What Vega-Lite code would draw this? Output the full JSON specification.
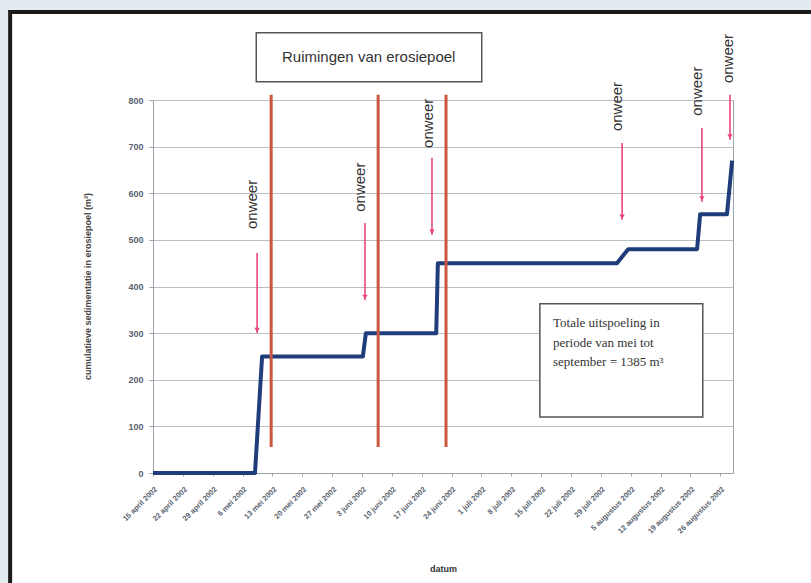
{
  "$schema": "https://vega.github.io/schema/vega-lite/v6.json",
  "autosize": {"type": "none"},
  "width": 580,
  "height": 373,
  "padding": {"left": 153, "top": 100, "right": 78, "bottom": 110},
  "background": "#ffffff",
  "config": {
    "view": {"stroke": "#9aa3ab", "strokeWidth": 1},
    "font": "Liberation Sans"
  },
  "datasets": {
    "rand": [
      {"x1": "2002-01-01T00:00:00Z", "x2": "2002-03-12T12:00:00Z", "y1": 1200, "y2": -400},
      {"x1": "2002-01-01T00:00:00Z", "x2": "2002-11-01T00:00:00Z", "y1": 1200, "y2": 989}
    ],
    "frame": [{"x1": "2002-03-12T12:00:00Z", "x2": "2002-09-25T00:00:00Z", "y1": 989, "y2": -300}],
    "lijn": [
      {"datum": "2002-04-15T00:00:00Z", "waarde": 0},
      {"datum": "2002-05-08T22:00:00Z", "waarde": 0},
      {"datum": "2002-05-10T14:00:00Z", "waarde": 250},
      {"datum": "2002-06-03T05:00:00Z", "waarde": 250},
      {"datum": "2002-06-03T22:00:00Z", "waarde": 300},
      {"datum": "2002-06-20T10:00:00Z", "waarde": 300},
      {"datum": "2002-06-20T19:00:00Z", "waarde": 450},
      {"datum": "2002-08-01T19:00:00Z", "waarde": 450},
      {"datum": "2002-08-04T10:00:00Z", "waarde": 480},
      {"datum": "2002-08-20T14:00:00Z", "waarde": 480},
      {"datum": "2002-08-21T07:00:00Z", "waarde": 555},
      {"datum": "2002-08-27T14:00:00Z", "waarde": 555},
      {"datum": "2002-08-28T19:00:00Z", "waarde": 670}
    ],
    "ruimingen": [
      {"datum": "2002-05-12T17:00:00Z", "van": 56, "tot": 811},
      {"datum": "2002-06-06T19:00:00Z", "van": 56, "tot": 811},
      {"datum": "2002-06-22T17:00:00Z", "van": 56, "tot": 811}
    ],
    "pijlen": [
      {"datum": "2002-05-09T10:00:00Z", "boven": 472, "onder": 300},
      {"datum": "2002-06-03T17:00:00Z", "boven": 536, "onder": 371},
      {"datum": "2002-06-19T10:00:00Z", "boven": 676, "onder": 511},
      {"datum": "2002-08-03T00:00:00Z", "boven": 708, "onder": 543},
      {"datum": "2002-08-21T17:00:00Z", "boven": 740, "onder": 582},
      {"datum": "2002-08-28T07:00:00Z", "boven": 811, "onder": 715}
    ],
    "onweer": [
      {"datum": "2002-05-08T05:00:00Z", "y": 576, "tekst": "onweer"},
      {"datum": "2002-06-02T12:00:00Z", "y": 613, "tekst": "onweer"},
      {"datum": "2002-06-18T12:00:00Z", "y": 750, "tekst": "onweer"},
      {"datum": "2002-08-01T19:00:00Z", "y": 786, "tekst": "onweer"},
      {"datum": "2002-08-20T14:00:00Z", "y": 819, "tekst": "onweer"},
      {"datum": "2002-08-27T22:00:00Z", "y": 889, "tekst": "onweer"}
    ],
    "titelbox": [{"x1": "2002-05-09T05:00:00Z", "x2": "2002-07-01T02:00:00Z", "y1": 944, "y2": 839, "xm": "2002-06-04T14:00:00Z", "ym": 892, "tekst": "Ruimingen van erosiepoel"}],
    "notabox": [{"x1": "2002-07-14T17:00:00Z", "x2": "2002-08-21T22:00:00Z", "y1": 363, "y2": 120}],
    "notatekst": [
      {"datum": "2002-07-17T19:00:00Z", "y": 322, "tekst": "Totale uitspoeling in"},
      {"datum": "2002-07-17T19:00:00Z", "y": 279, "tekst": "periode van mei tot"},
      {"datum": "2002-07-17T19:00:00Z", "y": 238, "tekst": "september = 1385 m³"}
    ]
  },
  "layer": [
    {
      "data": {"name": "rand"},
      "mark": {"type": "rect", "fill": "#e3ebf1", "strokeWidth": 0},
      "encoding": {
        "x": {"field": "x1", "type": "temporal"},
        "x2": {"field": "x2"},
        "y": {"field": "y1", "type": "quantitative"},
        "y2": {"field": "y2"}
      }
    },
    {
      "data": {"name": "frame"},
      "mark": {"type": "rect", "fill": null, "fillOpacity": 0, "stroke": "#1a1a1a", "strokeWidth": 4},
      "encoding": {
        "x": {"field": "x1", "type": "temporal"},
        "x2": {"field": "x2"},
        "y": {"field": "y1", "type": "quantitative"},
        "y2": {"field": "y2"}
      }
    },
    {
      "data": {"name": "lijn"},
      "mark": {"type": "line", "color": "#1f3d7a", "strokeWidth": 4, "strokeJoin": "round"},
      "encoding": {
        "x": {
          "field": "datum", "type": "temporal",
          "scale": {"type": "utc", "nice": false, "domain": [{"year": 2002, "month": 4, "date": 15, "utc": true}, {"year": 2002, "month": 8, "date": 29, "utc": true}]},
          "axis": {
            "title": "datum",
            "titleFontSize": 9, "titleFontWeight": "bold", "titleColor": "#333",
            "titleX": 290, "titleY": 95, "titleAlign": "center", "titleBaseline": "middle",
            "grid": false,
            "domainColor": "#9aa3ab",
            "tickColor": "#9aa3ab", "tickSize": 3,
            "tickCount": 40,
            "labelAngle": -45, "labelFontSize": 7.5, "labelColor": "#5a6470", "labelFontWeight": "bold",
            "labelPadding": 9, "labelOverlap": false, "labelFlush": false,
            "values": [
              {"year": 2002, "month": 4, "date": 15, "utc": true},
              {"year": 2002, "month": 4, "date": 22, "utc": true},
              {"year": 2002, "month": 4, "date": 29, "utc": true},
              {"year": 2002, "month": 5, "date": 6, "utc": true},
              {"year": 2002, "month": 5, "date": 13, "utc": true},
              {"year": 2002, "month": 5, "date": 20, "utc": true},
              {"year": 2002, "month": 5, "date": 27, "utc": true},
              {"year": 2002, "month": 6, "date": 3, "utc": true},
              {"year": 2002, "month": 6, "date": 10, "utc": true},
              {"year": 2002, "month": 6, "date": 17, "utc": true},
              {"year": 2002, "month": 6, "date": 24, "utc": true},
              {"year": 2002, "month": 7, "date": 1, "utc": true},
              {"year": 2002, "month": 7, "date": 8, "utc": true},
              {"year": 2002, "month": 7, "date": 15, "utc": true},
              {"year": 2002, "month": 7, "date": 22, "utc": true},
              {"year": 2002, "month": 7, "date": 29, "utc": true},
              {"year": 2002, "month": 8, "date": 5, "utc": true},
              {"year": 2002, "month": 8, "date": 12, "utc": true},
              {"year": 2002, "month": 8, "date": 19, "utc": true},
              {"year": 2002, "month": 8, "date": 26, "utc": true}
            ],
            "labelExpr": "utcdate(datum.value) + ' ' + ['januari','februari','maart','april','mei','juni','juli','augustus','september','oktober','november','december'][utcmonth(datum.value)] + ' ' + utcyear(datum.value)"
          }
        },
        "y": {
          "field": "waarde", "type": "quantitative",
          "scale": {"domain": [0, 800], "nice": false},
          "axis": {
            "title": "cumulatieve sedimentatie in erosiepoel (m³)",
            "titleFontSize": 9, "titleFontWeight": "bold", "titleColor": "#444",
            "titleX": -66, "titleY": 186, "titleAngle": -90, "titleAlign": "center", "titleBaseline": "middle",
            "values": [0, 100, 200, 300, 400, 500, 600, 700, 800],
            "tickCount": 20,
            "grid": true, "gridColor": "#b8bec4", "gridWidth": 1.2,
            "domainColor": "#9aa3ab",
            "tickColor": "#9aa3ab", "tickSize": 4,
            "labelFontSize": 9, "labelColor": "#5a6470", "labelFontWeight": "bold",
            "labelPadding": 6
          }
        }
      }
    },
    {
      "data": {"name": "ruimingen"},
      "mark": {"type": "rule", "color": "#c9573f", "strokeWidth": 3},
      "encoding": {
        "x": {"field": "datum", "type": "temporal"},
        "y": {"field": "van", "type": "quantitative"},
        "y2": {"field": "tot"}
      }
    },
    {
      "data": {"name": "pijlen"},
      "mark": {"type": "rule", "color": "#e8467c", "strokeWidth": 1.6},
      "encoding": {
        "x": {"field": "datum", "type": "temporal"},
        "y": {"field": "boven", "type": "quantitative"},
        "y2": {"field": "onder"}
      }
    },
    {
      "data": {"name": "pijlen"},
      "mark": {"type": "point", "shape": "triangle-down", "filled": true, "color": "#e8467c", "size": 28, "opacity": 1, "yOffset": -3},
      "encoding": {
        "x": {"field": "datum", "type": "temporal"},
        "y": {"field": "onder", "type": "quantitative"}
      }
    },
    {
      "data": {"name": "onweer"},
      "mark": {"type": "text", "angle": 270, "align": "center", "baseline": "middle", "fontSize": 15, "color": "#333", "font": "Liberation Sans"},
      "encoding": {
        "x": {"field": "datum", "type": "temporal"},
        "y": {"field": "y", "type": "quantitative"},
        "text": {"field": "tekst"}
      }
    },
    {
      "data": {"name": "titelbox"},
      "mark": {"type": "rect", "fill": "#ffffff", "stroke": "#555", "strokeWidth": 1.5},
      "encoding": {
        "x": {"field": "x1", "type": "temporal"},
        "x2": {"field": "x2"},
        "y": {"field": "y1", "type": "quantitative"},
        "y2": {"field": "y2"}
      }
    },
    {
      "data": {"name": "titelbox"},
      "mark": {"type": "text", "align": "center", "baseline": "middle", "fontSize": 15, "color": "#333"},
      "encoding": {
        "x": {"field": "xm", "type": "temporal"},
        "y": {"field": "ym", "type": "quantitative"},
        "text": {"field": "tekst"}
      }
    },
    {
      "data": {"name": "notabox"},
      "mark": {"type": "rect", "fill": "#ffffff", "stroke": "#555", "strokeWidth": 1.5},
      "encoding": {
        "x": {"field": "x1", "type": "temporal"},
        "x2": {"field": "x2"},
        "y": {"field": "y1", "type": "quantitative"},
        "y2": {"field": "y2"}
      }
    },
    {
      "data": {"name": "notatekst"},
      "mark": {"type": "text", "align": "left", "baseline": "middle", "fontSize": 13, "color": "#333", "font": "Liberation Serif"},
      "encoding": {
        "x": {"field": "datum", "type": "temporal"},
        "y": {"field": "y", "type": "quantitative"},
        "text": {"field": "tekst"}
      }
    }
  ]
}
